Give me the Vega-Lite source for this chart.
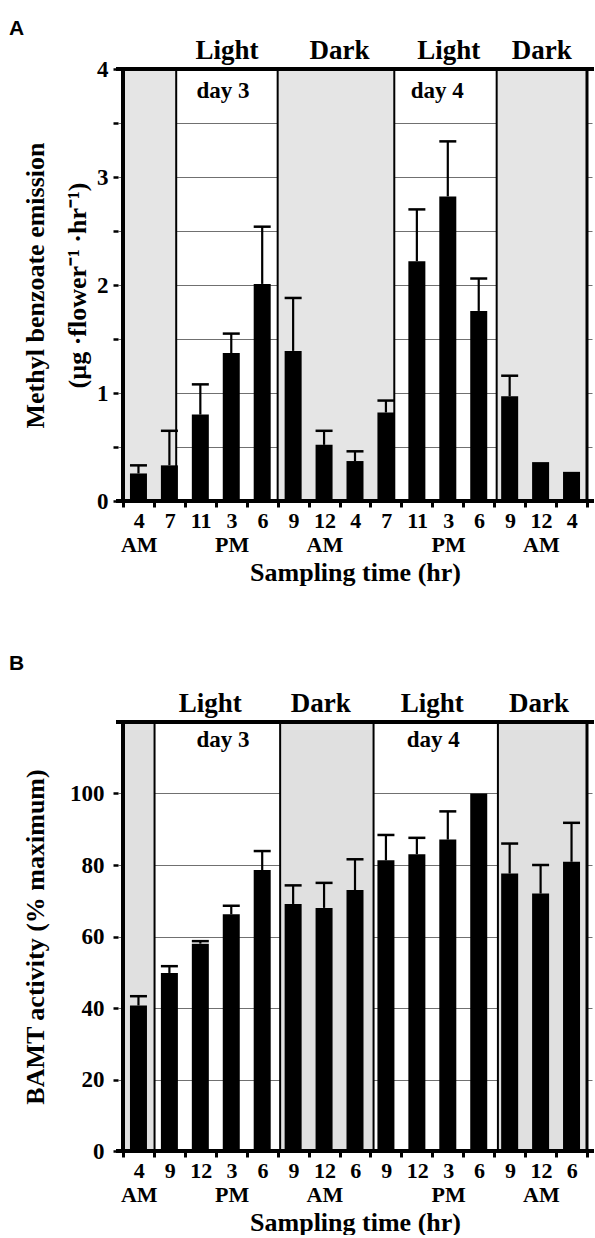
{
  "$schema": "https://vega.github.io/schema/vega-lite/v6.json",
  "background": "white",
  "padding": {"left": 9, "top": 18, "right": 0, "bottom": 0},
  "spacing": 68,
  "config": {
    "view": {"stroke": null},
    "axis": {"labelFont": "Liberation Serif", "titleFont": "Liberation Serif", "labelFontWeight": "bold", "titleFontWeight": "bold", "labelColor": "black", "titleColor": "black", "tickColor": "black"}
  },
  "datasets": {
    "emissionA": [
      {"slot": 0, "time": "4 AM", "mean": 0.255, "upper": 0.33},
      {"slot": 1, "time": "7 AM", "mean": 0.33, "upper": 0.65},
      {"slot": 2, "time": "11 AM", "mean": 0.80, "upper": 1.08},
      {"slot": 3, "time": "3 PM", "mean": 1.37, "upper": 1.55},
      {"slot": 4, "time": "6 PM", "mean": 2.01, "upper": 2.54},
      {"slot": 5, "time": "9 PM", "mean": 1.39, "upper": 1.88},
      {"slot": 6, "time": "12 AM", "mean": 0.52, "upper": 0.65},
      {"slot": 7, "time": "4 AM", "mean": 0.37, "upper": 0.46},
      {"slot": 8, "time": "7 AM", "mean": 0.82, "upper": 0.93},
      {"slot": 9, "time": "11 AM", "mean": 2.22, "upper": 2.70},
      {"slot": 10, "time": "3 PM", "mean": 2.82, "upper": 3.33},
      {"slot": 11, "time": "6 PM", "mean": 1.76, "upper": 2.06},
      {"slot": 12, "time": "9 PM", "mean": 0.97, "upper": 1.16},
      {"slot": 13, "time": "12 AM", "mean": 0.36, "upper": null},
      {"slot": 14, "time": "4 AM", "mean": 0.27, "upper": null}
    ],
    "bamtB": [
      {"slot": 0, "time": "4 AM", "mean": 40.7, "upper": 43.3},
      {"slot": 1, "time": "9 AM", "mean": 49.8, "upper": 51.7},
      {"slot": 2, "time": "12 PM", "mean": 58.0, "upper": 58.7},
      {"slot": 3, "time": "3 PM", "mean": 66.2, "upper": 68.6},
      {"slot": 4, "time": "6 PM", "mean": 78.6, "upper": 83.9},
      {"slot": 5, "time": "9 PM", "mean": 69.1, "upper": 74.3},
      {"slot": 6, "time": "12 AM", "mean": 68.0, "upper": 75.0},
      {"slot": 7, "time": "6 AM", "mean": 73.0, "upper": 81.6},
      {"slot": 8, "time": "9 AM", "mean": 81.3, "upper": 88.4},
      {"slot": 9, "time": "12 PM", "mean": 83.0, "upper": 87.6},
      {"slot": 10, "time": "3 PM", "mean": 87.1, "upper": 95.0},
      {"slot": 11, "time": "6 PM", "mean": 100.0, "upper": null},
      {"slot": 12, "time": "9 PM", "mean": 77.6, "upper": 86.0},
      {"slot": 13, "time": "12 AM", "mean": 72.0, "upper": 80.0},
      {"slot": 14, "time": "6 AM", "mean": 80.9, "upper": 91.8}
    ],
    "phasesA": [
      {"start": -0.5, "end": 1.22, "phase": "Dark"},
      {"start": 1.22, "end": 4.5, "phase": "Light"},
      {"start": 4.5, "end": 8.27, "phase": "Dark"},
      {"start": 8.27, "end": 11.58, "phase": "Light"},
      {"start": 11.58, "end": 14.5, "phase": "Dark"}
    ],
    "phasesB": [
      {"start": -0.5, "end": 0.52, "phase": "Dark"},
      {"start": 0.52, "end": 4.58, "phase": "Light"},
      {"start": 4.58, "end": 7.6, "phase": "Dark"},
      {"start": 7.6, "end": 11.62, "phase": "Light"},
      {"start": 11.62, "end": 14.5, "phase": "Dark"}
    ],
    "headersA": [
      {"label": "Light", "pos": 2.86, "kind": "phase"},
      {"label": "Dark", "pos": 6.5, "kind": "phase"},
      {"label": "Light", "pos": 10.03, "kind": "phase"},
      {"label": "Dark", "pos": 13.04, "kind": "phase"},
      {"label": "day 3", "pos": 2.73, "kind": "day"},
      {"label": "day 4", "pos": 9.66, "kind": "day"}
    ],
    "headersB": [
      {"label": "Light", "pos": 2.32, "kind": "phase"},
      {"label": "Dark", "pos": 5.89, "kind": "phase"},
      {"label": "Light", "pos": 9.5, "kind": "phase"},
      {"label": "Dark", "pos": 12.95, "kind": "phase"},
      {"label": "day 3", "pos": 2.73, "kind": "day"},
      {"label": "day 4", "pos": 9.53, "kind": "day"}
    ]
  },
  "vconcat": [
    {
      "width": 474,
      "height": 432,
      "title": {"text": "A", "anchor": "start", "frame": "group", "dx": -109, "offset": -2, "font": "Liberation Sans", "fontSize": 21, "fontWeight": "bold", "color": "black"},
      "layer": [
        {
          "data": {"name": "phasesA"},
          "transform": [{"filter": "datum.phase === 'Dark'"}],
          "mark": {"type": "rect", "fill": "#e5e5e5", "opacity": 1},
          "encoding": {
            "x": {"field": "start", "type": "quantitative", "scale": {"domain": [-0.5, 14.5], "nice": false, "zero": false}},
            "x2": {"field": "end"}
          }
        },
        {
          "data": {"name": "emissionA"},
          "mark": {"type": "bar", "width": 17, "color": "black", "opacity": 1},
          "encoding": {
            "x": {"field": "slot", "type": "quantitative", "scale": {"domain": [-0.5, 14.5], "nice": false, "zero": false},
              "axis": {
                "values": [-0.5, 0.5, 1.5, 2.5, 3.5, 4.5, 5.5, 6.5, 7.5, 8.5, 9.5, 10.5, 11.5, 12.5, 13.5, 14.5],
                "tickCount": 40,
                "labelExpr": "datum.value > 14 ? '' : split(['4|AM','7','11','3|PM','6','9','12|AM','4','7','11','3|PM','6','9','12|AM','4'][round(datum.value + 0.5)], '|')",
                "labelOffset": 15.8,
                "labelOverlap": false, "labelFlush": false,
                "tickSize": 6, "tickWidth": 3, "domain": false, "grid": false,
                "labelFontSize": 22, "labelLineHeight": 24, "labelPadding": 3,
                "title": "Sampling time (hr)", "titleFontSize": 26, "titlePadding": 4, "zindex": 0
              }
            },
            "y": {"field": "mean", "type": "quantitative", "scale": {"domain": [0, 4], "nice": false},
              "axis": {
                "values": [0, 0.5, 1, 1.5, 2, 2.5, 3, 3.5, 4],
                "tickCount": 40,
                "labelExpr": "datum.value % 1 === 0 ? format(datum.value, 'd') : ''",
                "labelOverlap": false, "labelFlush": false,
                "grid": true, "gridColor": "#707070", "gridWidth": 1,
                "domain": false,
                "tickSize": 5, "tickWidth": 2.5,
                "labelFontSize": 23, "labelPadding": 5,
                "title": ["Methyl benzoate emission", "(µg ·flower⁻¹ ·hr⁻¹)"],
                "titleFontSize": 26, "titleLineHeight": 42, "titlePadding": 6, "zindex": 0
              }
            }
          }
        },
        {
          "data": {"name": "emissionA"},
          "transform": [{"filter": "datum.upper != null"}],
          "mark": {"type": "rule", "strokeWidth": 2.2, "color": "black"},
          "encoding": {
            "x": {"field": "slot", "type": "quantitative", "scale": {"domain": [-0.5, 14.5], "nice": false, "zero": false}},
            "y": {"field": "mean", "type": "quantitative", "scale": {"domain": [0, 4], "nice": false}},
            "y2": {"field": "upper"}
          }
        },
        {
          "data": {"name": "emissionA"},
          "transform": [{"filter": "datum.upper != null"}],
          "mark": {"type": "tick", "orient": "horizontal", "size": 17, "thickness": 2.5, "color": "black", "opacity": 1},
          "encoding": {
            "x": {"field": "slot", "type": "quantitative", "scale": {"domain": [-0.5, 14.5], "nice": false, "zero": false}},
            "y": {"field": "upper", "type": "quantitative", "scale": {"domain": [0, 4], "nice": false}}
          }
        },
        {
          "data": {"name": "phasesA"},
          "transform": [{"filter": "datum.start > -0.5"}],
          "mark": {"type": "rule", "strokeWidth": 2, "color": "black"},
          "encoding": {
            "x": {"field": "start", "type": "quantitative", "scale": {"domain": [-0.5, 14.5], "nice": false, "zero": false}}
          }
        },
        {
          "data": {"name": "phasesA"},
          "transform": [{"filter": "datum.start < 0"}],
          "mark": {"type": "rule", "strokeWidth": 4, "color": "black", "strokeCap": "square"},
          "encoding": {
            "x": {"field": "start", "type": "quantitative", "scale": {"domain": [-0.5, 14.5], "nice": false, "zero": false}}
          }
        },
        {
          "data": {"name": "phasesA"},
          "transform": [{"filter": "datum.end > 14"}],
          "mark": {"type": "rule", "strokeWidth": 3, "color": "black", "strokeCap": "square"},
          "encoding": {
            "x": {"field": "end", "type": "quantitative", "scale": {"domain": [-0.5, 14.5], "nice": false, "zero": false}}
          }
        },
        {
          "data": {"name": "phasesA"},
          "transform": [{"filter": "datum.start < 0"}],
          "mark": {"type": "rule", "strokeWidth": 4, "color": "black", "strokeCap": "square"},
          "encoding": {
            "y": {"datum": 4, "type": "quantitative", "scale": {"domain": [0, 4], "nice": false}}
          }
        },
        {
          "data": {"name": "phasesA"},
          "transform": [{"filter": "datum.start < 0"}],
          "mark": {"type": "rule", "strokeWidth": 4, "color": "black", "strokeCap": "square"},
          "encoding": {
            "y": {"datum": 0, "type": "quantitative", "scale": {"domain": [0, 4], "nice": false}}
          }
        },
        {
          "data": {"name": "headersA"},
          "transform": [{"filter": "datum.kind === 'phase'"}],
          "mark": {"type": "text", "font": "Liberation Serif", "fontSize": 27, "fontWeight": "bold", "color": "black", "baseline": "alphabetic", "dy": -10},
          "encoding": {
            "x": {"field": "pos", "type": "quantitative", "scale": {"domain": [-0.5, 14.5], "nice": false, "zero": false}},
            "y": {"datum": 4, "type": "quantitative", "scale": {"domain": [0, 4], "nice": false}},
            "text": {"field": "label"}
          }
        },
        {
          "data": {"name": "headersA"},
          "transform": [{"filter": "datum.kind === 'day'"}],
          "mark": {"type": "text", "font": "Liberation Serif", "fontSize": 23, "fontWeight": "bold", "color": "black", "baseline": "alphabetic", "dy": 29},
          "encoding": {
            "x": {"field": "pos", "type": "quantitative", "scale": {"domain": [-0.5, 14.5], "nice": false, "zero": false}},
            "y": {"datum": 4, "type": "quantitative", "scale": {"domain": [0, 4], "nice": false}},
            "text": {"field": "label"}
          }
        }
      ]
    },
    {
      "width": 474,
      "height": 429,
      "title": {"text": "B", "anchor": "start", "frame": "group", "dx": -109, "offset": 16, "font": "Liberation Sans", "fontSize": 21, "fontWeight": "bold", "color": "black"},
      "layer": [
        {
          "data": {"name": "phasesB"},
          "transform": [{"filter": "datum.phase === 'Dark'"}],
          "mark": {"type": "rect", "fill": "#e0e0e0", "opacity": 1},
          "encoding": {
            "x": {"field": "start", "type": "quantitative", "scale": {"domain": [-0.5, 14.5], "nice": false, "zero": false}},
            "x2": {"field": "end"}
          }
        },
        {
          "data": {"name": "bamtB"},
          "mark": {"type": "bar", "width": 17, "color": "black", "opacity": 1},
          "encoding": {
            "x": {"field": "slot", "type": "quantitative", "scale": {"domain": [-0.5, 14.5], "nice": false, "zero": false},
              "axis": {
                "values": [-0.5, 0.5, 1.5, 2.5, 3.5, 4.5, 5.5, 6.5, 7.5, 8.5, 9.5, 10.5, 11.5, 12.5, 13.5, 14.5],
                "tickCount": 40,
                "labelExpr": "datum.value > 14 ? '' : split(['4|AM','9','12','3|PM','6','9','12|AM','6','9','12','3|PM','6','9','12|AM','6'][round(datum.value + 0.5)], '|')",
                "labelOffset": 15.8,
                "labelOverlap": false, "labelFlush": false,
                "tickSize": 6, "tickWidth": 3, "domain": false, "grid": false,
                "labelFontSize": 22, "labelLineHeight": 24, "labelPadding": 3,
                "title": "Sampling time (hr)", "titleFontSize": 26, "titlePadding": 4, "zindex": 0
              }
            },
            "y": {"field": "mean", "type": "quantitative", "scale": {"domain": [0, 120], "nice": false},
              "axis": {
                "values": [0, 20, 40, 60, 80, 100],
                "tickCount": 40,
                "labelOverlap": false, "labelFlush": false,
                "grid": true, "gridColor": "#707070", "gridWidth": 1,
                "domain": false,
                "tickSize": 5, "tickWidth": 2.5,
                "labelFontSize": 23, "labelPadding": 9,
                "title": "BAMT activity (% maximum)",
                "titleFontSize": 26, "titlePadding": 21, "zindex": 0
              }
            }
          }
        },
        {
          "data": {"name": "bamtB"},
          "transform": [{"filter": "datum.upper != null"}],
          "mark": {"type": "rule", "strokeWidth": 2.2, "color": "black"},
          "encoding": {
            "x": {"field": "slot", "type": "quantitative", "scale": {"domain": [-0.5, 14.5], "nice": false, "zero": false}},
            "y": {"field": "mean", "type": "quantitative", "scale": {"domain": [0, 120], "nice": false}},
            "y2": {"field": "upper"}
          }
        },
        {
          "data": {"name": "bamtB"},
          "transform": [{"filter": "datum.upper != null"}],
          "mark": {"type": "tick", "orient": "horizontal", "size": 17, "thickness": 2.5, "color": "black", "opacity": 1},
          "encoding": {
            "x": {"field": "slot", "type": "quantitative", "scale": {"domain": [-0.5, 14.5], "nice": false, "zero": false}},
            "y": {"field": "upper", "type": "quantitative", "scale": {"domain": [0, 120], "nice": false}}
          }
        },
        {
          "data": {"name": "phasesB"},
          "transform": [{"filter": "datum.start > -0.5"}],
          "mark": {"type": "rule", "strokeWidth": 2, "color": "black"},
          "encoding": {
            "x": {"field": "start", "type": "quantitative", "scale": {"domain": [-0.5, 14.5], "nice": false, "zero": false}}
          }
        },
        {
          "data": {"name": "phasesB"},
          "transform": [{"filter": "datum.start < 0"}],
          "mark": {"type": "rule", "strokeWidth": 4, "color": "black", "strokeCap": "square"},
          "encoding": {
            "x": {"field": "start", "type": "quantitative", "scale": {"domain": [-0.5, 14.5], "nice": false, "zero": false}}
          }
        },
        {
          "data": {"name": "phasesB"},
          "transform": [{"filter": "datum.end > 14"}],
          "mark": {"type": "rule", "strokeWidth": 3, "color": "black", "strokeCap": "square"},
          "encoding": {
            "x": {"field": "end", "type": "quantitative", "scale": {"domain": [-0.5, 14.5], "nice": false, "zero": false}}
          }
        },
        {
          "data": {"name": "phasesB"},
          "transform": [{"filter": "datum.start < 0"}],
          "mark": {"type": "rule", "strokeWidth": 4, "color": "black", "strokeCap": "square"},
          "encoding": {
            "y": {"datum": 120, "type": "quantitative", "scale": {"domain": [0, 120], "nice": false}}
          }
        },
        {
          "data": {"name": "phasesB"},
          "transform": [{"filter": "datum.start < 0"}],
          "mark": {"type": "rule", "strokeWidth": 4, "color": "black", "strokeCap": "square"},
          "encoding": {
            "y": {"datum": 0, "type": "quantitative", "scale": {"domain": [0, 120], "nice": false}}
          }
        },
        {
          "data": {"name": "headersB"},
          "transform": [{"filter": "datum.kind === 'phase'"}],
          "mark": {"type": "text", "font": "Liberation Serif", "fontSize": 27, "fontWeight": "bold", "color": "black", "baseline": "alphabetic", "dy": -10},
          "encoding": {
            "x": {"field": "pos", "type": "quantitative", "scale": {"domain": [-0.5, 14.5], "nice": false, "zero": false}},
            "y": {"datum": 120, "type": "quantitative", "scale": {"domain": [0, 120], "nice": false}},
            "text": {"field": "label"}
          }
        },
        {
          "data": {"name": "headersB"},
          "transform": [{"filter": "datum.kind === 'day'"}],
          "mark": {"type": "text", "font": "Liberation Serif", "fontSize": 23, "fontWeight": "bold", "color": "black", "baseline": "alphabetic", "dy": 25},
          "encoding": {
            "x": {"field": "pos", "type": "quantitative", "scale": {"domain": [-0.5, 14.5], "nice": false, "zero": false}},
            "y": {"datum": 120, "type": "quantitative", "scale": {"domain": [0, 120], "nice": false}},
            "text": {"field": "label"}
          }
        }
      ]
    }
  ]
}
